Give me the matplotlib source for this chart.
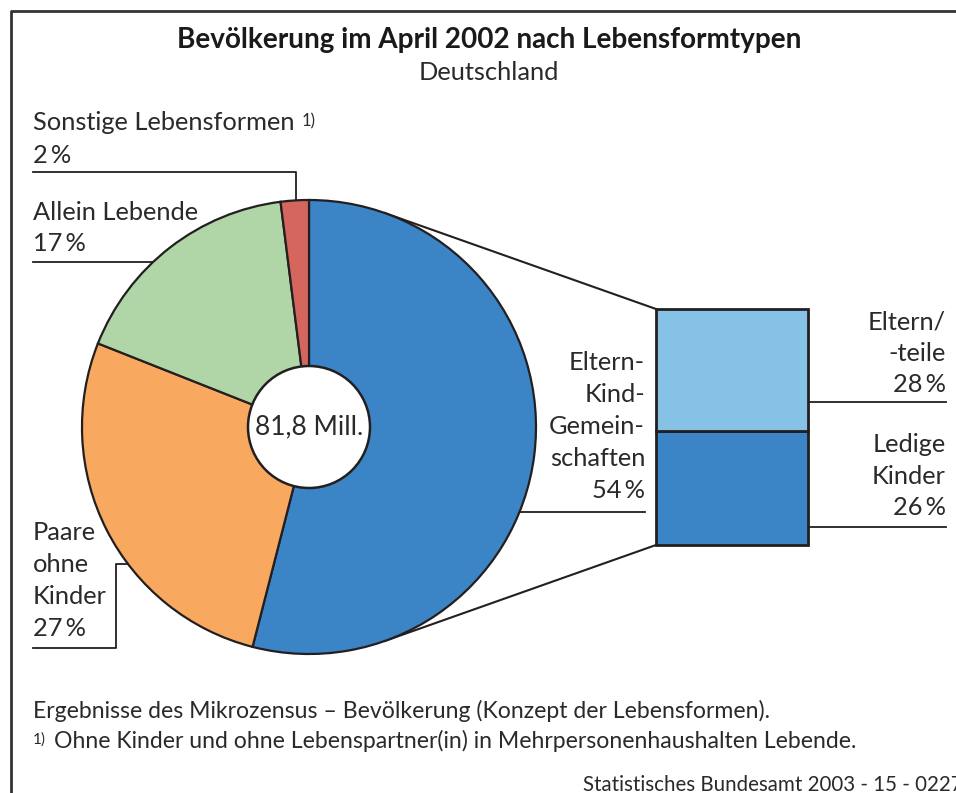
import numpy as np
import matplotlib
matplotlib.use("Agg")
import matplotlib.pyplot as plt
from matplotlib.patches import Circle

plt.rcParams['font.family'] = ['Lato', 'DejaVu Sans']

# Daten
kategorien = ["Eltern-Kind-Gemeinschaften", "Paare ohne Kinder", "Allein Lebende", "Sonstige Lebensformen"]
anteile = [54, 27, 17, 2]
farben = ["#3b84c6", "#f8a95f", "#b0d6a8", "#d4665e"]

teil_kategorien = ["Ledige Kinder", "Eltern/-teile"]
teil_anteile = [26, 28]
teil_farben = ["#3b84c6", "#85c2e6"]

gesamt = "81,8 Mill."

W, H = 956, 793
def Y(py):
    # Pixel von oben -> Datenkoordinate
    return H - py

def pct(v):
    return f"{v}\u2009%"

fig = plt.figure(figsize=(W / 100, H / 100), dpi=100)
ax = fig.add_axes([0, 0, 1, 1])

ink = "#231f20"
txt = "#2a2a2a"

# Kreis
cx, cy, r = 309, Y(427), 227
wedges, _ = ax.pie(anteile, colors=farben, startangle=90, counterclock=False,
                   center=(cx, cy), radius=r,
                   wedgeprops=dict(edgecolor=ink, linewidth=1.6, zorder=3))
ax.add_patch(Circle((cx, cy), 61, facecolor="white", edgecolor=ink, linewidth=1.8, zorder=4))
ax.text(cx, cy, gesamt, ha="center", va="center", fontsize=19, color=txt, zorder=5)

# Balken für Eltern-Kind-Gemeinschaften
bx, bw = 732, 152
box_bottom, box_h = Y(545), 236
scale = box_h / sum(teil_anteile)
unten = box_bottom
for wert, farbe in zip(teil_anteile, teil_farben):
    ax.bar(bx, wert * scale, width=bw, bottom=unten, color=farbe,
           edgecolor=ink, linewidth=2, zorder=3)
    unten += wert * scale

# Tangenten vom Kreis zum Balken
def tangent(px, py, upper=True):
    dx, dy = px - cx, py - cy
    d = np.hypot(dx, dy)
    th = np.arctan2(dy, dx)
    a = np.arccos(r / d)
    t = th + a if upper else th - a
    return cx + r * np.cos(t), cy + r * np.sin(t)

left = bx - bw / 2
for corner_y, up in [(box_bottom + box_h, True), (box_bottom, False)]:
    tx, ty = tangent(left, corner_y, up)
    ax.plot([tx, left], [ty, corner_y], color=ink, lw=1.5, zorder=2)

fs = 18.3
lc = dict(color=ink, lw=1.3, zorder=1)

# Sonstige Lebensformen
ax.text(33, Y(130), "Sonstige Lebensformen", fontsize=fs, color=txt, va="baseline")
ax.text(302, Y(126), "1)", fontsize=12, color=txt, va="baseline")
ax.text(33, Y(163), pct(anteile[3]), fontsize=fs, color=txt, va="baseline")
ax.plot([33, 296, 296], [Y(172), Y(172), Y(215)], **lc)

# Allein Lebende
ax.text(33, Y(220), "Allein Lebende", fontsize=fs, color=txt, va="baseline")
ax.text(33, Y(251), pct(anteile[2]), fontsize=fs, color=txt, va="baseline")
ax.plot([33, 170], [Y(262), Y(262)], **lc)

# Paare ohne Kinder
for i, s in enumerate(["Paare", "ohne", "Kinder", pct(anteile[1])]):
    ax.text(33, Y(540 + 32 * i), s, fontsize=fs, color=txt, va="baseline")
ax.plot([33, 116, 116, 140], [Y(648), Y(648), Y(564), Y(564)], **lc)

# Eltern-Kind-Gemeinschaften
for i, s in enumerate(["Eltern-", "Kind-", "Gemein-", "schaften", pct(anteile[0])]):
    ax.text(645, Y(370 + 32 * i), s, fontsize=fs, color=txt, va="baseline", ha="right")
ax.plot([500, 645], [Y(512), Y(512)], **lc)

# Rechte Beschriftungen
for i, s in enumerate(["Eltern/", "-teile", pct(teil_anteile[1])]):
    ax.text(946, Y(330 + 31 * i), s, fontsize=fs, color=txt, va="baseline", ha="right")
ax.plot([bx + bw / 2, 946], [Y(402), Y(402)], **lc)
for i, s in enumerate(["Ledige", "Kinder", pct(teil_anteile[0])]):
    ax.text(946, Y(452 + 31.5 * i), s, fontsize=fs, color=txt, va="baseline", ha="right")
ax.plot([bx + bw / 2, 946], [Y(527), Y(527)], **lc)

# Titel
ax.text(489, Y(48), "Bevölkerung im April 2002 nach Lebensformtypen",
        fontsize=20.1, fontweight="bold", color="#1a1a1a", ha="center", va="baseline")
ax.text(489, Y(80), "Deutschland", fontsize=18.3, color=txt, ha="center", va="baseline")

# Fußnoten
ax.text(33, Y(718), "Ergebnisse des Mikrozensus – Bevölkerung (Konzept der Lebensformen).",
        fontsize=16.6, color=txt, va="baseline")
ax.text(33, Y(744), "1)", fontsize=11, color=txt, va="baseline")
ax.text(54, Y(748), "Ohne Kinder und ohne Lebenspartner(in) in Mehrpersonenhaushalten Lebende.",
        fontsize=16.6, color=txt, va="baseline")
ax.text(583, Y(791), "Statistisches Bundesamt 2003 - 15 - 0227",
        fontsize=14.8, color=txt, va="baseline")

# Rahmen
ax.plot([11, 11, W + 5], [-5, Y(11), Y(11)], color="#333333", lw=2, zorder=6, clip_on=False)

ax.set_xlim(0, W)
ax.set_ylim(0, H)
ax.axis("off")

fig.savefig("out.png", dpi=100)
